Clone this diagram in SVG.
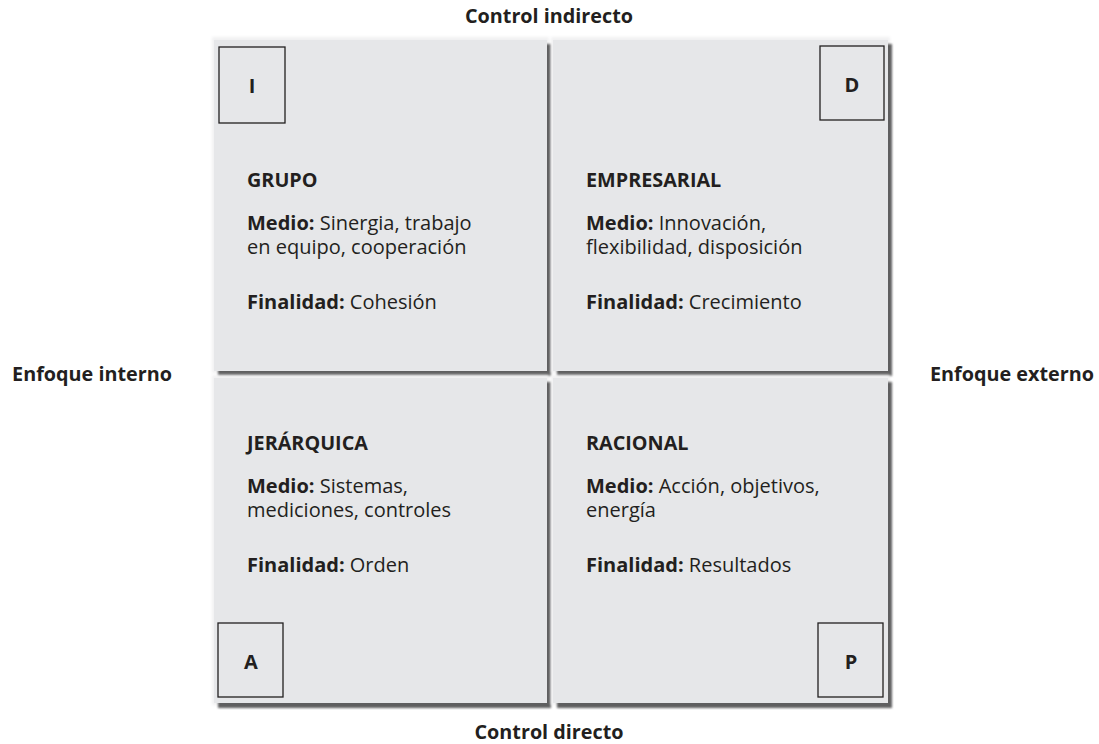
<svg xmlns="http://www.w3.org/2000/svg" width="1099" height="744" viewBox="0 0 1099 744">
  <style>
    .panel { fill: #e6e7e9; }
    .shadow { fill: #5e5f61; filter: url(#soft); }
    .glow { fill: #f1f1f2; filter: url(#halo); }
    .tag { fill: none; stroke: #231f20; stroke-width: 1.3; }
    text { font-family: "Open Sans", "Noto Sans", "Liberation Sans", sans-serif; fill: #231f20; }
    .axis { font-size: 19.8px; font-weight: 700; }
    .letter { font-size: 20px; font-weight: 700; text-anchor: middle; }
    .title { font-size: 19.8px; font-weight: 700; }
    .body { font-size: 20px; }
    .b { font-weight: 700; }
  </style>
  <defs>
    <filter id="soft" x="-5%" y="-5%" width="110%" height="110%">
      <feGaussianBlur stdDeviation="1"/>
    </filter>
    <filter id="halo" x="-5%" y="-5%" width="110%" height="110%">
      <feGaussianBlur stdDeviation="1.5"/>
    </filter>
  </defs>

  <!-- axis labels -->
  <text class="axis" x="549" y="23" text-anchor="middle">Control indirecto</text>
  <text class="axis" x="549" y="739" text-anchor="middle">Control directo</text>
  <text class="axis" x="92" y="381" text-anchor="middle">Enfoque interno</text>
  <text class="axis" x="1012" y="381" text-anchor="middle">Enfoque externo</text>

  <!-- top-left quadrant -->
  <g id="grupo">
    <rect class="glow" x="212" y="37" width="337" height="336"/>
    <rect class="shadow" x="218" y="44" width="333" height="332"/>
    <rect class="panel" x="214" y="40" width="333" height="331"/>
    <rect class="tag" x="219" y="47" width="66" height="76"/>
    <text class="letter" x="252" y="93">I</text>
    <text class="title" x="247" y="187">GRUPO</text>
    <text class="body" x="247" y="230"><tspan class="b">Medio:</tspan> Sinergia, trabajo</text>
    <text class="body" x="247" y="254">en equipo, cooperación</text>
    <text class="body" x="247" y="309"><tspan class="b">Finalidad:</tspan> Cohesión</text>
  </g>

  <!-- top-right quadrant -->
  <g id="empresarial">
    <rect class="glow" x="551" y="37" width="339" height="336"/>
    <rect class="shadow" x="557" y="44" width="335" height="332"/>
    <rect class="panel" x="553" y="40" width="335" height="331"/>
    <rect class="tag" x="820" y="46" width="64" height="74"/>
    <text class="letter" x="852" y="92">D</text>
    <text class="title" x="586" y="187">EMPRESARIAL</text>
    <text class="body" x="586" y="230"><tspan class="b">Medio:</tspan> Innovación,</text>
    <text class="body" x="586" y="254">flexibilidad, disposición</text>
    <text class="body" x="586" y="309"><tspan class="b">Finalidad:</tspan> Crecimiento</text>
  </g>

  <!-- bottom-left quadrant -->
  <g id="jerarquica">
    <rect class="glow" x="212" y="375" width="337" height="330"/>
    <rect class="shadow" x="218" y="382" width="333" height="326"/>
    <rect class="panel" x="214" y="378" width="333" height="325"/>
    <rect class="tag" x="218" y="623" width="65" height="74"/>
    <text class="letter" x="251" y="669">A</text>
    <text class="title" x="247" y="450">JERÁRQUICA</text>
    <text class="body" x="247" y="493"><tspan class="b">Medio:</tspan> Sistemas,</text>
    <text class="body" x="247" y="517">mediciones, controles</text>
    <text class="body" x="247" y="572"><tspan class="b">Finalidad:</tspan> Orden</text>
  </g>

  <!-- bottom-right quadrant -->
  <g id="racional">
    <rect class="glow" x="551" y="375" width="339" height="330"/>
    <rect class="shadow" x="557" y="382" width="335" height="326"/>
    <rect class="panel" x="553" y="378" width="335" height="325"/>
    <rect class="tag" x="818" y="623" width="65" height="74"/>
    <text class="letter" x="851" y="669">P</text>
    <text class="title" x="586" y="450">RACIONAL</text>
    <text class="body" x="586" y="493"><tspan class="b">Medio:</tspan> Acción, objetivos,</text>
    <text class="body" x="586" y="517">energía</text>
    <text class="body" x="586" y="572"><tspan class="b">Finalidad:</tspan> Resultados</text>
  </g>

  <g id="connectors"/>
</svg>
